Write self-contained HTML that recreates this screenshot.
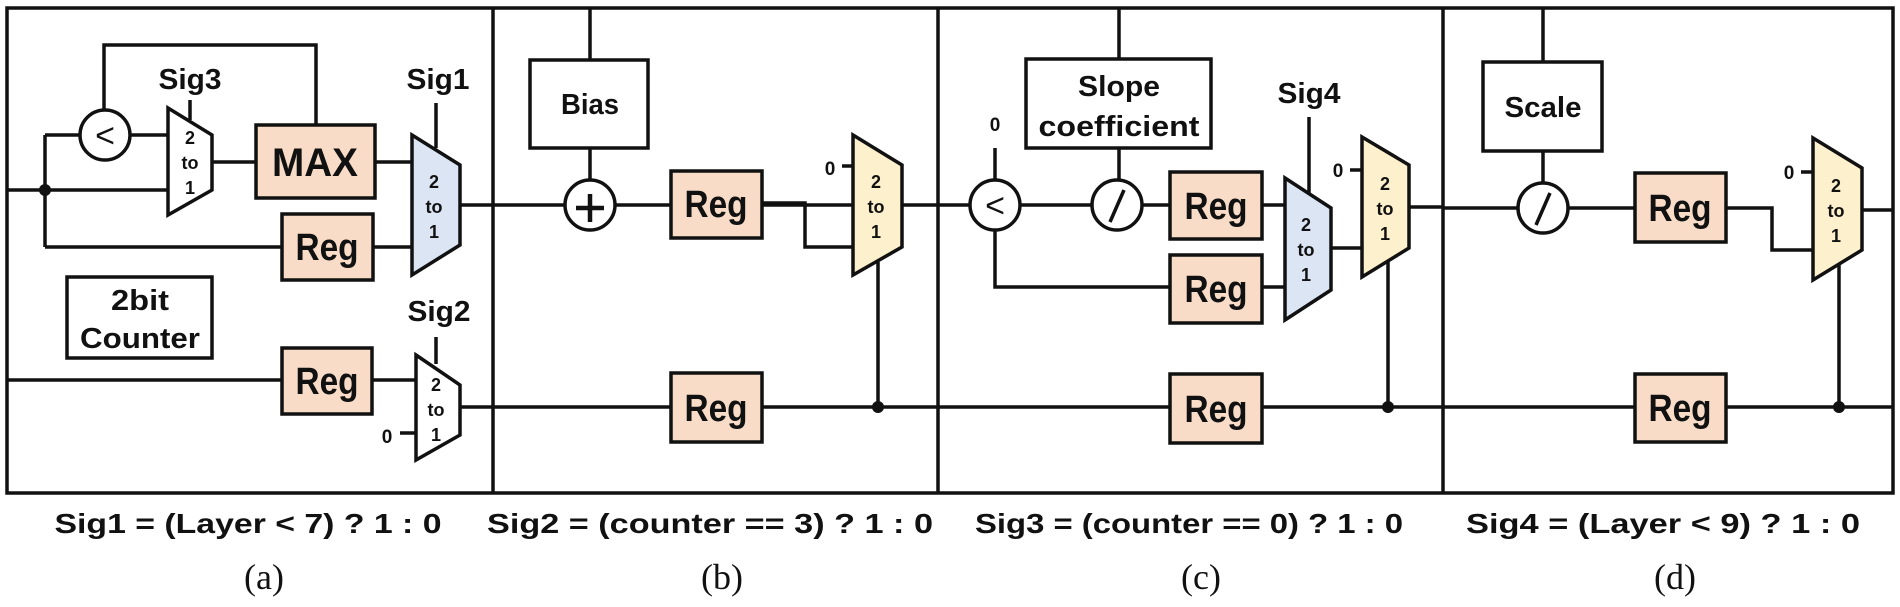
<!DOCTYPE html>
<html><head><meta charset="utf-8"><style>
html,body{margin:0;padding:0;background:#fff;}
svg{display:block;}
text{font-family:"Liberation Sans",sans-serif;fill:#111;}
.b{font-weight:bold;}
</style></head><body>
<svg width="1900" height="607" viewBox="0 0 1900 607" xmlns="http://www.w3.org/2000/svg">
<g stroke="#111" stroke-width="3.5" fill="none">
<rect x="7" y="8" width="1886" height="485"/>
<line x1="493" y1="8" x2="493" y2="493"/>
<line x1="938" y1="8" x2="938" y2="493"/>
<line x1="1443" y1="8" x2="1443" y2="493"/>

<!-- Panel a -->
<polyline points="104,110 104,45 316,45 316,125"/>
<line x1="45" y1="135" x2="80" y2="135"/>
<line x1="130" y1="135" x2="168" y2="135"/>
<line x1="45" y1="135" x2="45" y2="247"/>
<line x1="7" y1="190" x2="168" y2="190"/>
<line x1="190" y1="100" x2="190" y2="120"/>
<line x1="212" y1="162" x2="256" y2="162"/>
<line x1="375" y1="162" x2="412" y2="162"/>
<line x1="45" y1="247" x2="282" y2="247"/>
<line x1="373" y1="247" x2="412" y2="247"/>
<line x1="436" y1="103" x2="436" y2="148"/>
<line x1="460" y1="205" x2="1170" y2="205"/>
<line x1="7" y1="380" x2="282" y2="380"/>
<line x1="372" y1="380" x2="416" y2="380"/>
<line x1="436" y1="337" x2="436" y2="364"/>
<line x1="400" y1="433" x2="416" y2="433"/>
<line x1="460" y1="407" x2="1893" y2="407"/>
</g>
<circle cx="45" cy="190" r="6" fill="#111"/>
<circle cx="105" cy="135" r="25" fill="#fff" stroke="#111" stroke-width="3.5"/>
<text x="105" y="147" font-size="34" text-anchor="middle">&lt;</text>
<polygon points="168,108 212,135 212,190 168,215" fill="#fff" stroke="#111" stroke-width="3.5"/>
<rect x="256" y="125" width="119" height="73" fill="#f8dcc8" stroke="#111" stroke-width="3.5"/>
<text x="315" y="176" class="b" font-size="40" text-anchor="middle" textLength="86" lengthAdjust="spacingAndGlyphs">MAX</text>
<rect x="282" y="214" width="91" height="66" fill="#f8dcc8" stroke="#111" stroke-width="3.5"/>
<polygon points="412,135 460,165 460,245 412,275" fill="#dbe5f4" stroke="#111" stroke-width="3.5"/>
<rect x="67" y="277" width="145" height="81" fill="#fff" stroke="#111" stroke-width="3.5"/>
<text x="140" y="310" class="b" font-size="29" text-anchor="middle" textLength="58" lengthAdjust="spacingAndGlyphs">2bit</text>
<text x="140" y="348" class="b" font-size="29" text-anchor="middle" textLength="120" lengthAdjust="spacingAndGlyphs">Counter</text>
<rect x="282" y="348" width="90" height="66" fill="#f8dcc8" stroke="#111" stroke-width="3.5"/>
<polygon points="416,355 460,385 460,435 416,460" fill="#fff" stroke="#111" stroke-width="3.5"/>
<g class="b" font-size="29" text-anchor="middle">
<text x="190" y="89" textLength="63" lengthAdjust="spacingAndGlyphs">Sig3</text>
<text x="438" y="89" textLength="63" lengthAdjust="spacingAndGlyphs">Sig1</text>
<text x="439" y="321" textLength="63" lengthAdjust="spacingAndGlyphs">Sig2</text>
<text x="1309" y="103" textLength="63" lengthAdjust="spacingAndGlyphs">Sig4</text>
</g>

<!-- Panel b -->
<g stroke="#111" stroke-width="3.5" fill="none">
<line x1="590" y1="8" x2="590" y2="60"/>
<line x1="590" y1="148" x2="590" y2="180"/>
<polyline points="762,203 805,203 805,247 853,247"/>
<line x1="842" y1="166" x2="853" y2="166"/>
<line x1="878" y1="262" x2="878" y2="407"/>
</g>
<rect x="530" y="60" width="118" height="88" fill="#fff" stroke="#111" stroke-width="3.5"/>
<text x="590" y="114" class="b" font-size="29" text-anchor="middle" textLength="58" lengthAdjust="spacingAndGlyphs">Bias</text>
<circle cx="590" cy="205" r="25" fill="#fff" stroke="#111" stroke-width="3.5"/>
<line x1="576" y1="208" x2="604" y2="208" stroke="#111" stroke-width="4.5"/>
<line x1="590" y1="194" x2="590" y2="222" stroke="#111" stroke-width="4.5"/>
<rect x="671" y="171" width="91" height="67" fill="#f8dcc8" stroke="#111" stroke-width="3.5"/>
<polygon points="853,135 902,165 902,247 853,275" fill="#fdf0cc" stroke="#111" stroke-width="3.5"/>
<rect x="671" y="373" width="91" height="69" fill="#f8dcc8" stroke="#111" stroke-width="3.5"/>
<circle cx="878" cy="407" r="6" fill="#111"/>

<!-- Panel c -->
<g stroke="#111" stroke-width="3.5" fill="none">
<line x1="1119" y1="8" x2="1119" y2="59"/>
<line x1="1119" y1="148" x2="1119" y2="180"/>
<line x1="995" y1="148" x2="995" y2="180"/>
<line x1="1262" y1="205" x2="1285" y2="205"/>
<polyline points="995,230 995,287 1170,287"/>
<line x1="1262" y1="287" x2="1285" y2="287"/>
<line x1="1309" y1="117" x2="1309" y2="193"/>
<line x1="1331" y1="248" x2="1362" y2="248"/>
<line x1="1350" y1="170" x2="1362" y2="170"/>
<line x1="1409" y1="207" x2="1443" y2="207"/>
<line x1="1388" y1="262" x2="1388" y2="407"/>
</g>
<rect x="1026" y="59" width="185" height="89" fill="#fff" stroke="#111" stroke-width="3.5"/>
<text x="1119" y="96" class="b" font-size="29" text-anchor="middle" textLength="82" lengthAdjust="spacingAndGlyphs">Slope</text>
<text x="1119" y="136" class="b" font-size="29" text-anchor="middle" textLength="161" lengthAdjust="spacingAndGlyphs">coefficient</text>
<circle cx="995" cy="205" r="25" fill="#fff" stroke="#111" stroke-width="3.5"/>
<text x="995" y="217" font-size="34" text-anchor="middle">&lt;</text>
<circle cx="1117" cy="205" r="25" fill="#fff" stroke="#111" stroke-width="3.5"/>
<line x1="1124" y1="190" x2="1110" y2="222" stroke="#111" stroke-width="3.5"/>
<rect x="1170" y="172" width="92" height="67" fill="#f8dcc8" stroke="#111" stroke-width="3.5"/>
<rect x="1170" y="255" width="92" height="68" fill="#f8dcc8" stroke="#111" stroke-width="3.5"/>
<polygon points="1285,178 1331,208 1331,290 1285,320" fill="#dbe5f4" stroke="#111" stroke-width="3.5"/>
<polygon points="1362,137 1409,165 1409,248 1362,277" fill="#fdf0cc" stroke="#111" stroke-width="3.5"/>
<rect x="1170" y="374" width="92" height="69" fill="#f8dcc8" stroke="#111" stroke-width="3.5"/>
<circle cx="1388" cy="407" r="6" fill="#111"/>

<!-- Panel d -->
<g stroke="#111" stroke-width="3.5" fill="none">
<line x1="1443" y1="208" x2="1518" y2="208"/>
<line x1="1568" y1="208" x2="1635" y2="208"/>
<line x1="1543" y1="8" x2="1543" y2="62"/>
<line x1="1543" y1="151" x2="1543" y2="183"/>
<polyline points="1726,208 1772,208 1772,250 1813,250"/>
<line x1="1801" y1="172" x2="1813" y2="172"/>
<line x1="1862" y1="210" x2="1893" y2="210"/>
<line x1="1839" y1="264" x2="1839" y2="407"/>
</g>
<rect x="1483" y="62" width="119" height="89" fill="#fff" stroke="#111" stroke-width="3.5"/>
<text x="1543" y="117" class="b" font-size="29" text-anchor="middle" textLength="77" lengthAdjust="spacingAndGlyphs">Scale</text>
<circle cx="1543" cy="208" r="25" fill="#fff" stroke="#111" stroke-width="3.5"/>
<line x1="1550" y1="193" x2="1536" y2="225" stroke="#111" stroke-width="3.5"/>
<rect x="1635" y="173" width="91" height="69" fill="#f8dcc8" stroke="#111" stroke-width="3.5"/>
<polygon points="1813,138 1862,168 1862,250 1813,280" fill="#fdf0cc" stroke="#111" stroke-width="3.5"/>
<rect x="1635" y="374" width="91" height="68" fill="#f8dcc8" stroke="#111" stroke-width="3.5"/>
<circle cx="1839" cy="407" r="6" fill="#111"/>

<!-- zeros -->
<g class="b" font-size="19" text-anchor="middle">
<text x="387" y="443">0</text>
<text x="830" y="175">0</text>
<text x="995" y="131">0</text>
<text x="1338" y="177">0</text>
<text x="1789" y="179">0</text>
</g>

<!-- Reg labels -->
<g class="b" font-size="38" text-anchor="middle">
<text x="327" y="260" textLength="63" lengthAdjust="spacingAndGlyphs">Reg</text>
<text x="327" y="394" textLength="63" lengthAdjust="spacingAndGlyphs">Reg</text>
<text x="716" y="217" textLength="63" lengthAdjust="spacingAndGlyphs">Reg</text>
<text x="716" y="421" textLength="63" lengthAdjust="spacingAndGlyphs">Reg</text>
<text x="1216" y="219" textLength="63" lengthAdjust="spacingAndGlyphs">Reg</text>
<text x="1216" y="302" textLength="63" lengthAdjust="spacingAndGlyphs">Reg</text>
<text x="1216" y="422" textLength="63" lengthAdjust="spacingAndGlyphs">Reg</text>
<text x="1680" y="221" textLength="63" lengthAdjust="spacingAndGlyphs">Reg</text>
<text x="1680" y="421" textLength="63" lengthAdjust="spacingAndGlyphs">Reg</text>
</g>
<!-- mux labels -->
<g class="b" font-size="18" text-anchor="middle">
<text x="190" y="144">2</text><text x="190" y="169">to</text><text x="190" y="194">1</text>
<text x="434" y="188">2</text><text x="434" y="213">to</text><text x="434" y="238">1</text>
<text x="436" y="391">2</text><text x="436" y="416">to</text><text x="436" y="441">1</text>
<text x="876" y="188">2</text><text x="876" y="213">to</text><text x="876" y="238">1</text>
<text x="1306" y="231">2</text><text x="1306" y="256">to</text><text x="1306" y="281">1</text>
<text x="1385" y="190">2</text><text x="1385" y="215">to</text><text x="1385" y="240">1</text>
<text x="1836" y="192">2</text><text x="1836" y="217">to</text><text x="1836" y="242">1</text>
</g>

<!-- captions -->
<g class="b" font-size="28" text-anchor="middle">
<text x="248" y="533" textLength="387" lengthAdjust="spacingAndGlyphs">Sig1 = (Layer &lt; 7) ? 1 : 0</text>
<text x="710" y="533" textLength="446" lengthAdjust="spacingAndGlyphs">Sig2 = (counter == 3) ? 1 : 0</text>
<text x="1189" y="533" textLength="428" lengthAdjust="spacingAndGlyphs">Sig3 = (counter == 0) ? 1 : 0</text>
<text x="1663" y="533" textLength="394" lengthAdjust="spacingAndGlyphs">Sig4 = (Layer &lt; 9) ? 1 : 0</text>
</g>
<g font-size="36" text-anchor="middle">
<text x="264" y="589" style="font-family:'Liberation Serif',serif">(a)</text>
<text x="722" y="589" style="font-family:'Liberation Serif',serif">(b)</text>
<text x="1201" y="589" style="font-family:'Liberation Serif',serif">(c)</text>
<text x="1675" y="589" style="font-family:'Liberation Serif',serif">(d)</text>
</g>
</svg>
</body></html>
